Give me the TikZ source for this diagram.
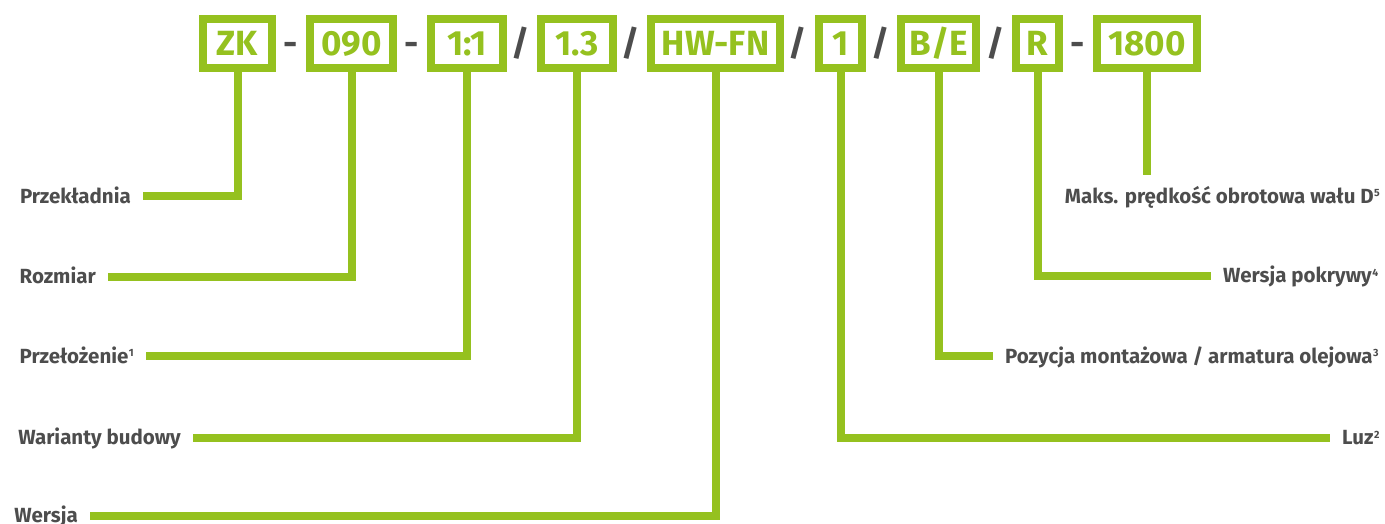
\documentclass[tikz,border=0pt]{standalone}
\usepackage{fontspec}
\setmainfont{Fira Sans}
\definecolor{grn}{HTML}{95C11F}
\definecolor{txt}{HTML}{4D4D4D}
\newcommand{\mysupnum}[1]{\kern0.5pt\raisebox{6.3pt}{\fontsize{10.5}{10.5}\selectfont\bfseries #1}}
\begin{document}
\begin{tikzpicture}[x=1pt,y=-1pt,
  codebox/.style={draw=grn, line width=7.7pt, minimum height=49pt, inner sep=0pt,
    text=grn, text height=24.3pt, text depth=0pt, font=\fontsize{35}{35}\selectfont\bfseries},
  sepmark/.style={text=txt, inner sep=0pt, text height=24.3pt, text depth=0pt,
    font=\fontsize{35}{35}\selectfont\bfseries},
  lab/.style={text=txt, font=\fontsize{20.5}{22}\selectfont\bfseries,
    text height=14.1pt, text depth=0pt, inner ysep=0pt, inner xsep=12pt},
  conn/.style={draw=grn, line width=8pt}]
\useasboundingbox (0,0) rectangle (1385,524);
% code boxes
\node[codebox, minimum width=69pt]  (zk)   at (237.5,43.5) {ZK};
\node[codebox, minimum width=83pt]  (s090) at (351.5,43.5) {090};
\node[codebox, minimum width=72pt]  (r11)  at (467,43.5)   {1:1};
\node[codebox, minimum width=72pt]  (r13)  at (577,43.5)   {1.3};
\node[codebox, minimum width=129pt] (hwfn) at (715.5,43.5) {HW-FN};
\node[codebox, minimum width=43pt]  (one)  at (840.5,43.5) {1};
\node[codebox, minimum width=75pt]  (be)   at (938.5,43.5) {B/E};
\node[codebox, minimum width=43pt]  (rr)   at (1037.5,43.5){R};
\node[codebox, minimum width=100pt] (b1800) at (1147,43.5) {1800};
% separators
\node[sepmark] (d1) at (291,43.5) {-};
\node[sepmark] (d2) at (412,43.5) {-};
\node[sepmark] (k1) at (521,43.5) {/};
\node[sepmark] (k2) at (631,43.5) {/};
\node[sepmark] (k3) at (798,43.5) {/};
\node[sepmark] (k4) at (881,43.5) {/};
\node[sepmark] (k5) at (996,43.5) {/};
\node[sepmark] (d3) at (1078,43.5) {-};
% left labels
\node[lab, anchor=east] (l1) at (143,196)   {Przekładnia};
\node[lab, anchor=east] (l2) at (108,276.5) {Rozmiar};
\node[lab, anchor=east] (l3) at (146,356)   {Przełożenie\mysupnum{1}};
\node[lab, anchor=east] (l4) at (193,437.5) {Warianty budowy};
\node[lab, anchor=east] (l5) at (90,515.5)  {Wersja};
% right labels
\node[lab, anchor=east] (r4) at (1392,196)   {Maks. prędkość obrotowa wału D\mysupnum{5}};
\node[lab, anchor=west] (r3) at (1211,275.5) {Wersja pokrywy\mysupnum{4}};
\node[lab, anchor=west] (r2) at (993,356)    {Pozycja montażowa / armatura olejowa\mysupnum{3}};
\node[lab, anchor=west] (r1) at (1330,437.5) {Luz\mysupnum{2}};
% connectors
\draw[conn] (zk.south)   |- (l1.east);
\draw[conn] (s090.south) |- (l2.east);
\draw[conn] (r11.south)  |- (l3.east);
\draw[conn] (r13.south)  |- (l4.east);
\draw[conn] (hwfn.south) |- (l5.east);
\draw[conn] (one.south)  |- (r1.west);
\draw[conn] (be.south)   |- (r2.west);
\draw[conn] (rr.south)   |- (r3.west);
\coordinate (e1800) at (1147,175);
\draw[conn] (b1800.south) -- (e1800);
\end{tikzpicture}
\end{document}
